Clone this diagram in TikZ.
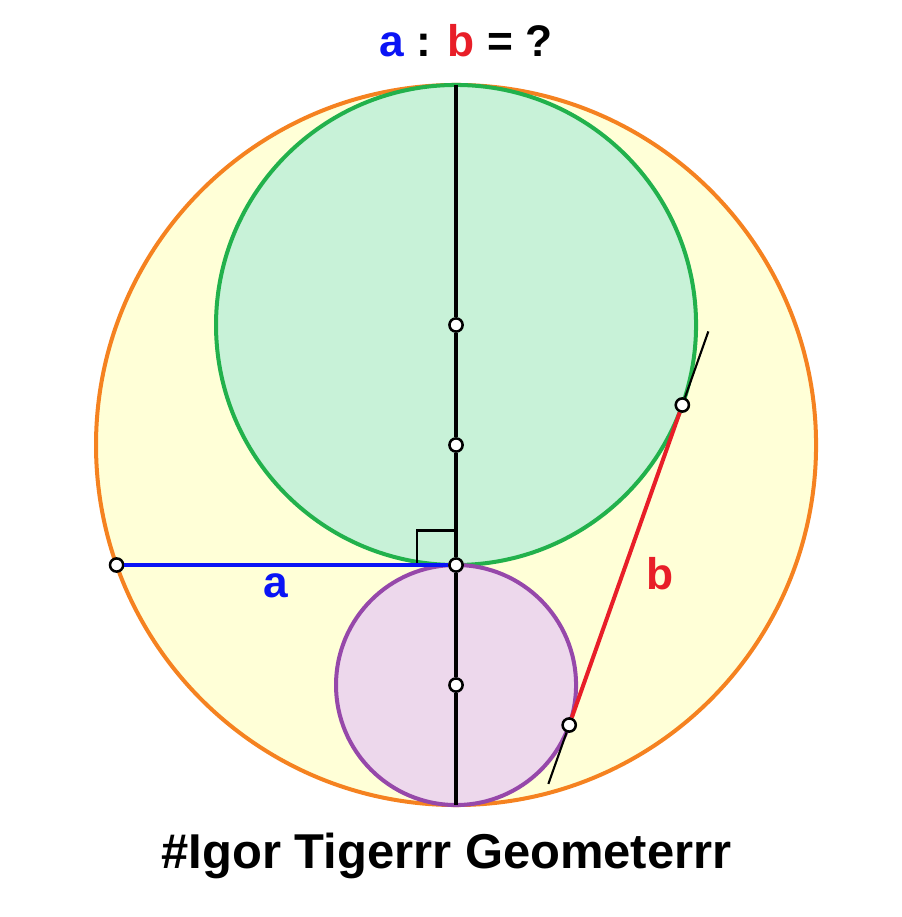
\documentclass[tikz,border=0pt]{standalone}
\usepackage{fontspec}
\setmainfont{Liberation Sans}
\usetikzlibrary{calc}
\definecolor{bigorange}{RGB}{245,130,32}
\definecolor{bigfill}{RGB}{255,255,215}
\definecolor{grn}{RGB}{34,177,76}
\definecolor{grnfill}{RGB}{200,242,216}
\definecolor{purp}{RGB}{150,72,170}
\definecolor{purpfill}{RGB}{237,216,236}
\definecolor{blu}{RGB}{10,20,245}
\definecolor{rd}{RGB}{232,30,40}
\tikzset{
  dot/.style={circle,draw=black,fill=white,line width=1.2pt,inner sep=0pt,minimum size=2.2mm},
  lbl/.style={font=\bfseries\fontsize{21}{25}\selectfont,anchor=base}
}

\begin{document}
\begin{tikzpicture}[x=2cm,y=2cm]
	\useasboundingbox (-3.8,-3.933) rectangle (3.708,3.708);
	% circles
	\draw[bigorange,fill=bigfill,line width=1.9pt] (0,0) circle (3);
	\draw[grn,fill=grnfill,line width=1.9pt] (0,1) circle (2);
	\draw[purp,fill=purpfill,line width=1.9pt] (0,-2) circle (1);
	% points
	\coordinate (top) at (0,3);
	\coordinate (bot) at (0,-3);
	\node[dot] (x0) at (0,0) {};
	\node[dot] (x1) at (0,1) {};
	\node[dot] (x2) at (0,-1) {};
	\node[dot] (x3) at (0,-2) {};
	\node[dot] (xa) at ({-2*sqrt(2)},-1) {};
	\node[dot] (xt1) at ({4*sqrt(2)/3},{1/3}) {};
	\node[dot] (xt2) at ({2*sqrt(2)/3},{-7/3}) {};
	\coordinate (e1) at ($(xt2.center)!1.23!(xt1.center)$);
	\coordinate (e2) at ($(xt2.center)!-0.184!(xt1.center)$);
	% lines
	\draw[line width=1pt] (xt1) -- (e1);
	\draw[line width=1pt] (xt2) -- (e2);
	\draw[rd,line width=1.9pt] (xt2) -- (xt1);
	\draw[line width=1.3pt] ($(x2.center)+(0,0.29)$) -| ($(x2.center)+(-0.325,0)$);
	\draw[blu,line width=1.9pt] (xa) -- (x2);
	\draw[line width=2pt] (top) -- (x1) -- (x0) -- (x2) -- (x3) -- (bot);
	% labels
	\node[lbl,text=blu] (la) at (-1.5,-1.267) {a};
	\node[lbl,text=rd] (lb) at (1.7,-1.208) {b};
	\node[lbl] (title) at (0.083,3.233) {\textcolor{blu}{a} : \textcolor{rd}{b} = ?};
	\node[lbl,font=\bfseries\fontsize{23.2}{28}\selectfont] (sig) at (-0.079,-3.525) {\#Igor Tigerrr Geometerrr};
\end{tikzpicture}
\end{document}
